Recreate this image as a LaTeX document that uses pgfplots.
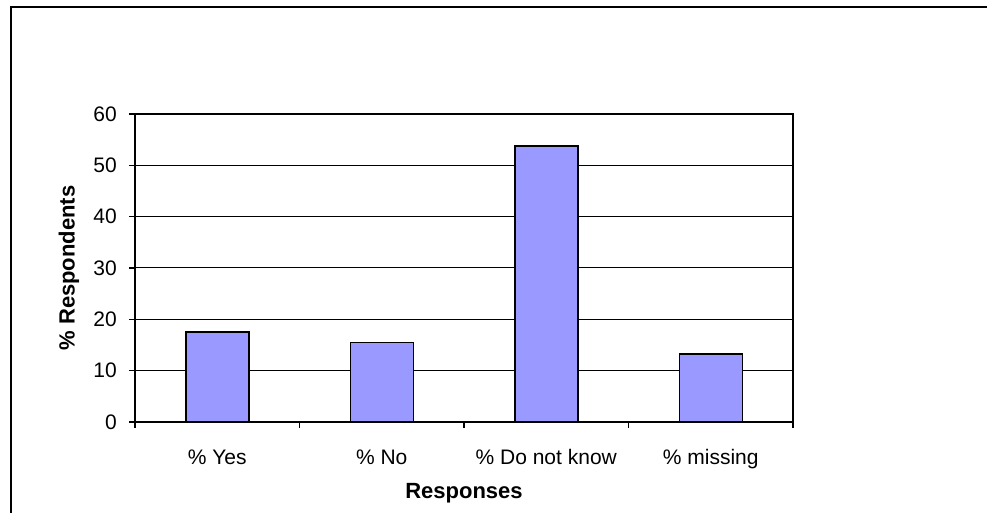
\documentclass[border=0pt]{standalone}
\usepackage{pgfplots}
\pgfplotsset{compat=1.18}
\usepackage{fontspec}
\setmainfont{Liberation Sans}
\definecolor{barfill}{HTML}{9999FF}
\begin{document}
\begin{tikzpicture}
\useasboundingbox (0pt,0pt) rectangle (987pt,513pt);
\fill[white] (0pt,0pt) rectangle (987pt,513pt);
\draw[line width=2pt] (11pt,0pt) -- (11pt,506pt) -- (987pt,506pt);
\begin{axis}[
  at={(135pt,91pt)}, anchor=south west,
  scale only axis, width=658pt, height=308pt,
  xmin=-0.5, xmax=3.5, ymin=0, ymax=60,
  ytick={0,10,...,60},
  xtick={-0.5,0.5,1.5,2.5,3.5},
  x tick label as interval,
  xticklabels={\% Yes,\% No,\% Do not know,\% missing},
  tick align=outside,
  tick pos=left,
  major tick length=6pt,
  tick style={line width=1.5pt, black},
  ymajorgrids, grid style={line width=1pt, black},
  axis line style={line width=2pt},
  every axis plot/.append style={line width=1.5pt},
  ybar, bar width=63pt,
  xticklabel style={font=\fontsize{21}{24}\selectfont, anchor=base, yshift=-37pt, inner sep=0pt},
  yticklabel style={font=\fontsize{21}{24}\selectfont, anchor=east, xshift=-12pt, inner sep=0pt},
  xlabel={\textbf{Responses}},
  ylabel={\textbf{\% Respondents}},
  xlabel style={font=\fontsize{22}{26}\selectfont, at={(axis description cs:0.5,-0.2305)}, anchor=center},
  ylabel style={font=\fontsize{22}{26}\selectfont, at={(axis description cs:-0.1003,0.5)}, anchor=center},
  /pgf/number format/assume math mode=true,
]
\addplot[fill=barfill, draw=black] coordinates {(0,17.5) (1,15.5) (2,53.8) (3,13.2)};
\end{axis}
\end{tikzpicture}
\end{document}
